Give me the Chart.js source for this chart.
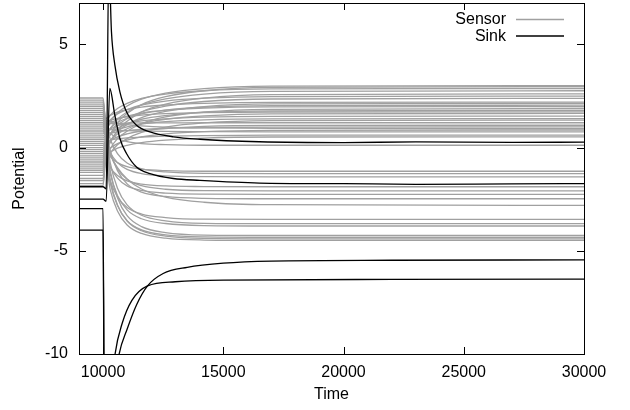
<!DOCTYPE html>
<html>
<head>
<meta charset="utf-8">
<title>Potential vs Time</title>
<script src="https://cdn.jsdelivr.net/npm/chart.js@4.4.1/dist/chart.umd.min.js"></script>
<style>
    html, body { margin: 0; padding: 0; background: #fff; }
    #wrap { width: 630px; height: 410px; }
</style>
</head>
<body>
<div id="wrap"><canvas id="chartPotential" width="630" height="410"></canvas></div>
<script>
// axis ticks
var xTicks = [10000, 15000, 20000, 25000, 30000];
var yTicks = [-10, -5, 0, 5];

// time points shared by all sensor traces
var sensorTimes = [9000, 10000, 10100, 10300, 10600, 11000, 11600, 12600, 14200, 17000, 30000];

// one row per sensor, values read at sensorTimes
var sensorValues = [
    [1.2, 1.2, 0.8, 1.24, 1.68, 2.01, 2.34, 2.63, 2.85, 2.97, 3.0],
    [-0.3, -0.3, 0.05, 0.63, 1.21, 1.65, 2.08, 2.46, 2.75, 2.91, 2.95],
    [2.1, 2.1, 1.25, 1.57, 1.89, 2.14, 2.38, 2.59, 2.75, 2.84, 2.86],
    [0.5, 0.5, 0.45, 0.91, 1.37, 1.72, 2.06, 2.36, 2.59, 2.72, 2.75],
    [-1.1, -1.1, -0.35, 0.24, 0.83, 1.27, 1.72, 2.10, 2.39, 2.56, 2.6],
    [1.7, 1.7, 1.05, 1.34, 1.63, 1.84, 2.06, 2.25, 2.39, 2.47, 2.49],
    [0, 0, 0.2, 0.64, 1.07, 1.40, 1.73, 2.01, 2.23, 2.35, 2.38],
    [2.4, 2.4, 1.4, 1.56, 1.72, 1.84, 1.96, 2.06, 2.14, 2.19, 2.2],
    [-0.7, -0.7, -0.15, 0.31, 0.77, 1.11, 1.45, 1.75, 1.98, 2.11, 2.14],
    [0.9, 0.9, 0.65, 0.93, 1.21, 1.42, 1.63, 1.81, 1.95, 2.03, 2.05],
    [1.5, 1.5, 0.95, 1.16, 1.36, 1.52, 1.67, 1.81, 1.91, 1.97, 1.98],
    [-1.5, -1.5, -0.55, -0.06, 0.43, 0.79, 1.16, 1.48, 1.72, 1.85, 1.89],
    [0.3, 0.3, 0.35, 0.64, 0.93, 1.15, 1.37, 1.55, 1.70, 1.78, 1.8],
    [2.0, 2.0, 1.2, 1.31, 1.41, 1.49, 1.57, 1.64, 1.69, 1.72, 1.73],
    [-0.4, -0.4, 0, 0.33, 0.66, 0.91, 1.16, 1.37, 1.53, 1.63, 1.65],
    [1.1, 1.1, 0.75, 0.90, 1.06, 1.17, 1.29, 1.39, 1.47, 1.51, 1.52],
    [0.6, 0.6, 0.5, 0.68, 0.86, 1.0, 1.13, 1.25, 1.34, 1.39, 1.4],
    [-1.75, -1.75, -0.68, -0.27, 0.13, 0.43, 0.73, 0.99, 1.19, 1.30, 1.33],
    [1.9, 1.9, 1.15, 1.16, 1.17, 1.18, 1.19, 1.19, 1.2, 1.2, 1.2],
    [-0.1, -0.1, 0.15, 0.34, 0.52, 0.66, 0.80, 0.92, 1.02, 1.07, 1.08],
    [0.8, 0.8, 0.6, 0.68, 0.76, 0.82, 0.88, 0.93, 0.97, 0.99, 1.0],
    [2.3, 2.3, 1.35, 1.26, 1.18, 1.11, 1.05, 0.99, 0.95, 0.93, 0.92],
    [-0.9, -0.9, -0.25, -0.03, 0.19, 0.36, 0.52, 0.66, 0.77, 0.83, 0.85],
    [1.4, 1.4, 0.9, 0.87, 0.84, 0.82, 0.80, 0.78, 0.77, 0.76, 0.76],
    [0.2, 0.2, 0.3, 0.36, 0.42, 0.47, 0.51, 0.55, 0.58, 0.60, 0.6],
    [-1.2, -1.2, -0.4, -0.22, -0.03, 0.11, 0.24, 0.36, 0.46, 0.51, 0.52],
    [1.6, 1.6, 1.0, 0.69, 0.45, 0.29, 0.19, 0.14, 0.11, 0.11, 0.11],
    [-0.5, -0.5, -0.05, -0.44, -0.73, -0.93, -1.05, -1.12, -1.15, -1.15, -1.15],
    [2.2, 2.2, 1.3, 0.40, -0.29, -0.75, -1.03, -1.18, -1.25, -1.26, -1.26],
    [0.4, 0.4, 0.4, -0.24, -0.73, -1.06, -1.26, -1.37, -1.41, -1.42, -1.42],
    [-1.35, -1.35, -0.48, -0.97, -1.36, -1.62, -1.77, -1.86, -1.89, -1.9, -1.9],
    [1.0, 1.0, 0.7, -0.28, -1.04, -1.54, -1.85, -2.02, -2.09, -2.1, -2.1],
    [-0.8, -0.8, -0.2, -0.92, -1.48, -1.86, -2.08, -2.21, -2.26, -2.27, -2.27],
    [1.8, 1.8, 1.1, -0.15, -1.12, -1.76, -2.16, -2.37, -2.46, -2.48, -2.48],
    [0.1, 0.1, 0.25, -0.36, -0.97, -1.52, -2.01, -2.40, -2.65, -2.77, -2.8],
    [-1.6, -1.6, -0.6, -1.61, -2.39, -2.90, -3.22, -3.39, -3.47, -3.48, -3.48],
    [1.3, 1.3, 0.85, -0.74, -1.97, -2.78, -3.28, -3.55, -3.67, -3.69, -3.69],
    [-0.2, -0.2, 0.1, -1.27, -2.32, -3.02, -3.45, -3.68, -3.78, -3.8, -3.8],
    [0.7, 0.7, 0.55, -1.13, -2.43, -3.30, -3.83, -4.12, -4.24, -4.26, -4.26],
    [-1.0, -1.0, -0.3, -1.72, -2.81, -3.54, -3.99, -4.23, -4.33, -4.35, -4.35],
    [-0.6, -0.6, -0.1, -1.61, -2.78, -3.56, -4.03, -4.29, -4.40, -4.42, -4.42],
    [-1.85, -1.85, -0.73, -2.05, -3.07, -3.75, -4.16, -4.39, -4.48, -4.5, -4.5]
];

// sinks (own time points each)
var sink1Times = [9000, 10000, 10130, 10240, 10350, 10490, 10700, 10975, 11390, 11950, 12920, 14030, 16500, 20000, 23000, 27000, 30000];
var sink1Values = [-1.9, -1.9, -2.0, 9.0, 5.6, 4.0, 2.7, 1.73, 1.08, 0.76, 0.52, 0.40, 0.28, 0.24, 0.27, 0.25, 0.26];
var sink2Times = [9000, 10000, 10130, 10280, 10490, 10700, 10975, 11390, 11950, 12920, 14030, 16500, 20000, 23000, 27000, 30000];
var sink2Values = [-2.5, -2.5, -2.6, 2.86, 1.57, 0.44, -0.29, -0.94, -1.26, -1.5, -1.59, -1.72, -1.75, -1.78, -1.76, -1.75];
var sink3Times = [9000, 10000, 10060, 10670, 11000, 11400, 11850, 12500, 13500, 15000, 17000, 22000, 30000];
var sink3Values = [-2.96, -2.96, -15, -10, -8.8, -7.6, -6.7, -6.1, -5.8, -5.6, -5.5, -5.46, -5.44];
var sink4Times = [9000, 10000, 10060, 10500, 10800, 11200, 11850, 13000, 15000, 22000, 30000];
var sink4Values = [-4.0, -4.0, -15, -10, -8.5, -7.4, -6.7, -6.5, -6.42, -6.39, -6.37];

var font = "'Liberation Sans', Arial, sans-serif";

function toPoints(times, values) {
    return times.map(function (t, i) { return { x: t, y: values[i] }; });
}

var datasets = [];
// sinks first so they are painted on top
[[sink1Times, sink1Values], [sink2Times, sink2Values], [sink3Times, sink3Values], [sink4Times, sink4Values]].forEach(function (s) {
    datasets.push({
        data: toPoints(s[0], s[1]),
        borderColor: '#000000',
        borderWidth: 1.3
    });
});
sensorValues.forEach(function (row) {
    datasets.push({
        data: toPoints(sensorTimes, row),
        borderColor: '#a0a0a0',
        borderWidth: 1.3
    });
});

// box, inward ticks and gnuplot style key
var frame = {
    id: 'frame',
    afterDatasetsDraw: function (chart) {
        var ctx = chart.ctx;
        var a = chart.chartArea;
        var xs = chart.scales.x;
        var ys = chart.scales.y;
        ctx.save();
        ctx.strokeStyle = '#000';
        ctx.lineWidth = 1;
        ctx.beginPath();
        xTicks.forEach(function (v) {
            var px = Math.round(xs.getPixelForValue(v)) + 0.5;
            ctx.moveTo(px, a.bottom); ctx.lineTo(px, a.bottom - 7);
            ctx.moveTo(px, a.top); ctx.lineTo(px, a.top + 7);
        });
        yTicks.forEach(function (v) {
            var py = Math.round(ys.getPixelForValue(v)) + 0.5;
            ctx.moveTo(a.left, py); ctx.lineTo(a.left + 7, py);
            ctx.moveTo(a.right, py); ctx.lineTo(a.right - 7, py);
        });
        ctx.stroke();
        ctx.strokeRect(a.left + 0.5, a.top + 0.5, a.right - a.left, a.bottom - a.top);

        ctx.font = '16px ' + font;
        ctx.fillStyle = '#000';
        ctx.textAlign = 'right';
        ctx.textBaseline = 'middle';
        ctx.fillText('Sensor', 506, 20);
        ctx.fillText('Sink', 506, 36.5);
        ctx.beginPath();
        ctx.strokeStyle = '#a0a0a0';
        ctx.lineWidth = 1.3;
        ctx.moveTo(516, 19.5); ctx.lineTo(564, 19.5);
        ctx.stroke();
        ctx.beginPath();
        ctx.strokeStyle = '#000';
        ctx.moveTo(516, 36); ctx.lineTo(564, 36);
        ctx.stroke();
        ctx.restore();
    }
};

const potential = new Chart(document.getElementById('chartPotential'), {
    type: 'line',
    data: { datasets: datasets },
    options: {
        responsive: false,
        animation: false,
        events: [],
        layout: { padding: { top: 3, right: 46, left: 0, bottom: 0 } },
        elements: {
            point: { radius: 0 },
            line: { cubicInterpolationMode: 'monotone', fill: false }
        },
        plugins: {
            legend: { display: false },
            tooltip: { enabled: false }
        },
        scales: {
            x: {
                type: 'linear',
                min: 9000,
                max: 30000,
                grid: { display: false, drawTicks: false },
                border: { display: false },
                afterBuildTicks: function (s) { s.ticks = xTicks.map(function (v) { return { value: v }; }); },
                afterFit: function (s) {
                    s.height = 56;
                    s.paddingLeft = 0;
                    s.paddingRight = 0;
                },
                ticks: {
                    padding: 9,
                    maxRotation: 0,
                    color: '#000',
                    font: { family: font, size: 16 },
                    callback: function (v) { return String(v); }
                },
                title: {
                    display: true,
                    text: 'Time',
                    color: '#000',
                    font: { family: font, size: 16 },
                    padding: { top: 0, bottom: 6 }
                }
            },
            y: {
                min: -10,
                max: 7,
                grid: { display: false, drawTicks: false },
                border: { display: false },
                afterBuildTicks: function (s) { s.ticks = yTicks.map(function (v) { return { value: v }; }); },
                afterFit: function (s) {
                    s.width = 79;
                    s.paddingTop = 0;
                    s.paddingBottom = 0;
                },
                ticks: {
                    padding: 11,
                    color: '#000',
                    font: { family: font, size: 16 },
                    callback: function (v) { return String(v); }
                },
                title: {
                    display: true,
                    text: 'Potential',
                    color: '#000',
                    font: { family: font, size: 16 },
                    padding: { top: 10, bottom: 0 }
                }
            }
        }
    },
    plugins: [frame]
});
</script>
</body>
</html>
